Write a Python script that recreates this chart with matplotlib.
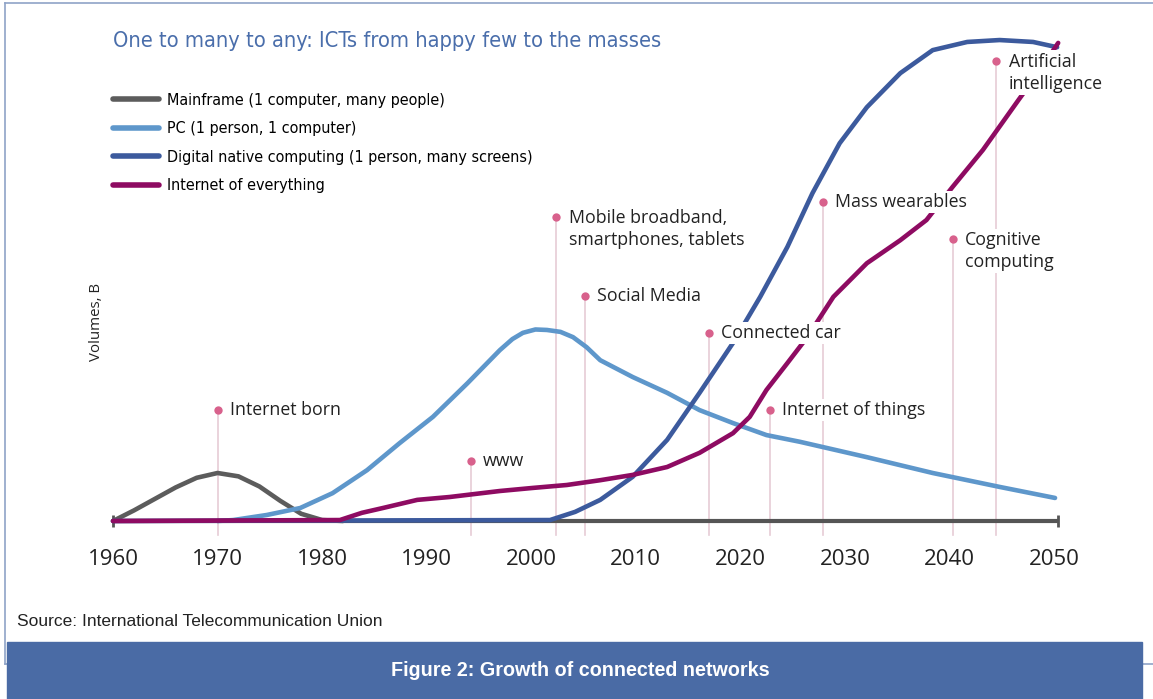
import matplotlib
matplotlib.use("Agg")
import matplotlib.pyplot as plt
from matplotlib import font_manager
from matplotlib.lines import Line2D
from matplotlib.patches import Rectangle

# --- data (years vs relative volume, 0..100) ---
mainframe_years = [1960, 1962, 1964, 1966, 1968, 1970, 1972, 1974, 1976, 1978, 1980, 1982]
mainframe_vals = [0, 2.2, 4.6, 7.0, 9.0, 10.0, 9.3, 7.2, 4.2, 1.5, 0.2, 0]

pc_years = [1970, 1971.5, 1974.7, 1977.9, 1981, 1984.3, 1987.4, 1990.6, 1993.9, 1997,
            1998.2, 1999.2, 2000.4, 2001.5, 2002.8, 2004, 2005.3, 2006.6, 2009.7, 2013,
            2016.1, 2019.3, 2022.5, 2025.7, 2032.1, 2038.4, 2044.8, 2050.1]
pc_vals = [0, 0.2, 1.25, 2.7, 5.8, 10.6, 16.2, 21.7, 28.7, 35.6,
           37.9, 39.2, 39.9, 39.8, 39.4, 38.3, 36.2, 33.5, 30.0, 26.7,
           23.1, 20.4, 17.9, 16.5, 13.3, 10.0, 7.1, 4.8]

digital_years = [1960, 2001.8, 2004.2, 2006.6, 2009.7, 2013, 2016.1, 2019.3, 2021.9, 2024.5,
                 2026.9, 2029.5, 2032.1, 2035.3, 2038.4, 2041.7, 2044.8, 2048, 2050.3]
digital_vals = [0, 0.2, 1.9, 4.4, 9.2, 16.9, 26.7, 37.1, 46.7, 57.1,
                68.3, 78.7, 86.2, 93.3, 98.1, 99.8, 100.2, 99.8, 98.7]

ioe_years = [1960, 1981.7, 1983.8, 1985.8, 1989.1, 1992.2, 1997, 2000.2, 2003.4, 2006.6,
             2009.7, 2013, 2016.1, 2019.3, 2020.9, 2022.5, 2024.5, 2026.4, 2028.9, 2032.1,
             2035.3, 2037.8, 2040.3, 2043.2, 2046.6, 2048.7, 2050.4]
ioe_vals = [0, 0.2, 1.7, 2.7, 4.4, 5.0, 6.25, 6.9, 7.5, 8.5,
            9.6, 11.25, 14.2, 18.3, 21.7, 27.3, 32.9, 38.3, 46.7, 53.7,
            58.5, 62.7, 69.6, 77.3, 87.7, 94.0, 99.6]

series_labels = ["Mainframe (1 computer, many people)", "PC (1 person, 1 computer)",
                 "Digital native computing (1 person, many screens)", "Internet of everything"]

event_labels = ["Internet born", "www", "Mobile broadband,\nsmartphones, tablets", "Social Media",
                "Connected car", "Internet of things", "Mass wearables",
                "Cognitive\ncomputing", "Artificial\nintelligence"]
event_years = [1970, 1994.2, 2002.4, 2005.1, 2017.0, 2022.8, 2027.9, 2040.3, 2044.5]
event_vals = [23.1, 12.5, 63.3, 46.9, 39.2, 23.1, 66.5, 58.7, 95.8]

tick_years = [1960, 1970, 1980, 1990, 2000, 2010, 2020, 2030, 2040, 2050]

# fonts
names = {f.name for f in font_manager.fontManager.ttflist}
narrow = "Liberation Sans Narrow" if "Liberation Sans Narrow" in names else "DejaVu Sans"
narrow_stretch = "normal" if narrow == "Liberation Sans Narrow" else "condensed"
label_font = "Open Sans"

W, H = 1153, 699
fig = plt.figure(figsize=(W / 100, H / 100), dpi=100)
fig.patch.set_facecolor("white")

ax = fig.add_axes([113 / W, (H - 521) / H, (1054 - 113) / W, (521 - 41) / H])
ax.set_xlim(1960, 2050)
ax.set_ylim(0, 100)
for s in ax.spines.values():
    s.set_visible(False)
ax.set_yticks([])
ax.set_xticks(tick_years)
ax.set_xticklabels([str(y) for y in tick_years], family=label_font, fontsize=16, color="#222222")
ax.tick_params(axis="x", length=0, pad=20)

# event markers
for lab, yr, val in zip(event_labels, event_years, event_vals):
    ax.plot([yr, yr], [-2.9, val], color="#e6ccd6", lw=1.2, zorder=1, clip_on=False)
    ax.plot(yr, val, "o", color="#d8618c", ms=6, mec="none", zorder=7, clip_on=False)
    n = lab.count("\n")
    ax.annotate(lab, (yr, val), xytext=(9, -n * 8.3), textcoords="offset points",
                ha="left", va="center", family=label_font, fontsize=12.8, color="#222222",
                linespacing=1.3, zorder=6,
                bbox=dict(fc="white", ec="none", pad=1.5))

# baseline axis
ax.plot([1960, 2050.4], [0, 0], color="#555555", lw=3, zorder=2, clip_on=False,
        solid_capstyle="butt")
ax.plot([1960, 2050.4], [0, 0], ls="none", marker="|", ms=9, mew=2, color="#555555",
        zorder=2, clip_on=False)

kw = dict(lw=3.3, solid_capstyle="round", solid_joinstyle="round", clip_on=False)
l1, = ax.plot(mainframe_years, mainframe_vals, color="#5c5c5c", zorder=3, label=series_labels[0], **kw)
l2, = ax.plot(pc_years, pc_vals, color="#5e97cb", zorder=3, label=series_labels[1], **kw)
l3, = ax.plot(digital_years, digital_vals, color="#3c5a9d", zorder=4, label=series_labels[2], **kw)
l4, = ax.plot(ioe_years, ioe_vals, color="#8e0b62", zorder=5, label=series_labels[3], **kw)

leg = ax.legend(handles=[l1, l2, l3, l4], loc="upper left",
                bbox_to_anchor=(113 / W, 1 - 93 / H), bbox_transform=fig.transFigure,
                frameon=False, prop=dict(family=narrow, stretch=narrow_stretch, size=11.5),
                handlelength=2.9, handletextpad=0.5, labelspacing=0.84,
                borderpad=0, borderaxespad=0)
for h in leg.get_lines():
    h.set_linewidth(4)

# texts
fig.text(113 / W, 1 - 41 / H, "One to many to any: ICTs from happy few to the masses",
         family=narrow, stretch=narrow_stretch, fontsize=15.7, color="#4a6eab",
         ha="left", va="center")
fig.text(97 / W, 1 - 322 / H, "Volumes, B", rotation=90, family=label_font, fontsize=10.8,
         color="#222222", ha="center", va="center")
fig.text(17 / W, 1 - 621 / H, "Source: International Telecommunication Union",
         family="Liberation Sans", fontsize=12.5, color="#222222", ha="left", va="center")

# frame and caption band
frame = "#8fa3c7"
fig.add_artist(Line2D([5 / W, 1], [1 - 3 / H, 1 - 3 / H], color=frame, lw=1.2))
fig.add_artist(Line2D([5 / W, 5 / W], [1 - 3 / H, 1 - 664 / H], color=frame, lw=1.2))
fig.add_artist(Line2D([5 / W, 1], [1 - 664 / H, 1 - 664 / H], color=frame, lw=1.2))
fig.add_artist(Rectangle((7 / W, 0), (1142 - 7) / W, 57 / H, transform=fig.transFigure,
                         color="#4a6ba5", zorder=3))
fig.text(580 / W, 1 - 670 / H, "Figure 2: Growth of connected networks",
         family="Liberation Sans", weight="bold", fontsize=14.2, color="white",
         ha="center", va="center", zorder=4)

fig.savefig("out.png", dpi=100)
